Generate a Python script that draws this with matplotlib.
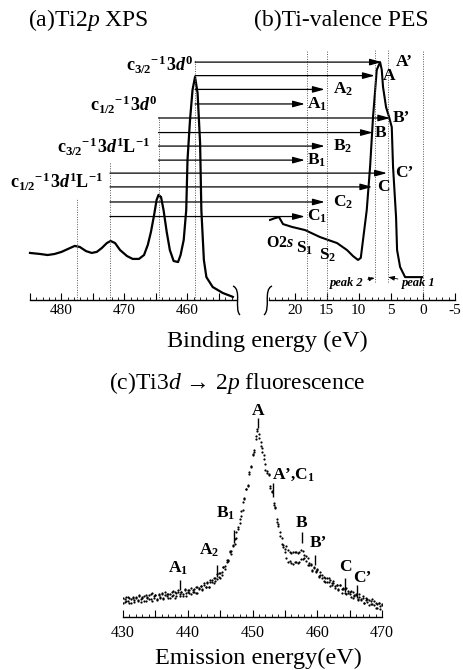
import matplotlib
matplotlib.use("Agg")
import matplotlib.pyplot as plt
from matplotlib.patches import ConnectionPatch, PathPatch
from matplotlib.path import Path
from matplotlib.ticker import MultipleLocator, FuncFormatter

plt.rcParams["font.family"] = ["Liberation Serif", "DejaVu Serif"]
plt.rcParams["mathtext.fontset"] = "custom"
plt.rcParams["mathtext.rm"] = "Liberation Serif"
plt.rcParams["mathtext.it"] = "Liberation Serif:italic"
plt.rcParams["mathtext.bf"] = "Liberation Serif:bold"
plt.rcParams["mathtext.bfit"] = "Liberation Serif:italic:bold"
plt.rcParams["axes.unicode_minus"] = False

# ---- (a) Ti2p XPS (binding energy eV, rel. intensity)
xps_be = [485.0, 483.4, 482.2, 481.1, 480.0, 479.0, 477.9, 477.1, 476.1, 475.2,
          474.4, 473.6, 472.8, 472.2, 471.5, 470.7, 469.6, 468.7, 467.7, 466.9,
          466.3, 465.8, 465.3, 464.9, 464.6, 464.2, 463.8, 463.3, 462.8, 462.2,
          461.5, 461.1, 460.6, 460.2, 460.0, 459.6, 459.2, 458.8, 458.4, 458.0,
          457.8, 457.4, 457.0, 456.0, 454.4, 452.8]
xps_int = [0.181, 0.177, 0.173, 0.177, 0.185, 0.196, 0.208, 0.204, 0.188, 0.181,
           0.185, 0.200, 0.219, 0.227, 0.219, 0.192, 0.169, 0.158, 0.158, 0.173,
           0.212, 0.262, 0.327, 0.385, 0.404, 0.396, 0.346, 0.262, 0.192, 0.150,
           0.146, 0.173, 0.231, 0.346, 0.538, 0.692, 0.808, 0.858, 0.796, 0.604,
           0.346, 0.154, 0.088, 0.050, 0.027, 0.012]

# ---- (b) Ti-valence PES
pes_be = [23.84, 23.06, 22.44, 21.82, 20.41, 18.38, 16.04, 13.39, 11.83, 10.90,
          10.12, 9.69, 9.34, 8.76, 8.24, 7.78, 7.20, 6.68, 6.42, 6.22,
          5.75, 5.28, 4.86, 4.66, 4.19, 4.03, 3.56, 2.78, 0.13]
pes_int = [0.308, 0.315, 0.319, 0.292, 0.281, 0.269, 0.242, 0.219, 0.192, 0.169,
           0.154, 0.162, 0.231, 0.346, 0.512, 0.704, 0.885, 0.915, 0.885, 0.819,
           0.742, 0.704, 0.665, 0.512, 0.319, 0.192, 0.127, 0.088, 0.088]

# XPS final states (dotted lines) and their labels
xps_lines = [477.6, 472.3, 464.6, 458.8]
xps_line_top = [0.392, 0.531, 0.704, 0.923]
c_labels = [r"$\mathbf{c}_{\mathbf{3/2}}{}^{\mathbf{-1}}\,\mathbf{3}\mathbfit{d}^{\mathbf{0}}$",
            r"$\mathbf{c}_{\mathbf{1/2}}{}^{\mathbf{-1}}\,\mathbf{3}\mathbfit{d}^{\mathbf{0}}$",
            r"$\mathbf{c}_{\mathbf{3/2}}{}^{\mathbf{-1}}\,\mathbf{3}\mathbfit{d}^{\mathbf{1}}\mathbf{L}^{\mathbf{-1}}$",
            r"$\mathbf{c}_{\mathbf{1/2}}{}^{\mathbf{-1}}\,\mathbf{3}\mathbfit{d}^{\mathbf{1}}\mathbf{L}^{\mathbf{-1}}$"]
c_label_be = [459.1, 464.8, 466.0, 473.4]
c_label_y = [0.904, 0.750, 0.588, 0.454]

# PES reference energies: S1, S2, peak 2, peak 1, Fermi level
pes_lines = [18.0, 15.0, 7.5, 5.5, 0.0]
pes_line_bottom = [0.0, 0.0, 0.07, 0.07, 0.0]

# transitions XPS -> PES
arrow_row = [0.915, 0.863, 0.810, 0.754, 0.700, 0.644, 0.592, 0.538,
             0.488, 0.435, 0.377, 0.321]
arrow_start = [458.8, 458.8, 458.8, 458.8, 464.6, 464.6, 464.6, 464.6,
               472.3, 472.3, 472.3, 472.3]
arrow_end = [6.4, 7.5, 15.3, 18.4, 5.1, 7.8, 15.3, 18.4, 5.6, 7.9, 15.3, 18.4]
arrow_labels = ["A’", "A", r"$\mathbf{A}_{\mathbf{2}}$", r"$\mathbf{A}_{\mathbf{1}}$",
                "B’", "B", r"$\mathbf{B}_{\mathbf{2}}$", r"$\mathbf{B}_{\mathbf{1}}$",
                "C’", "C", r"$\mathbf{C}_{\mathbf{2}}$", r"$\mathbf{C}_{\mathbf{1}}$"]
arrow_label_be = [4.3, 6.2, 14.0, 18.1, 4.65, 7.5, 14.0, 18.1, 4.35, 7.15, 14.0, 18.1]

# ---- (c) Ti3d -> 2p fluorescence (two sweeps)
fl_energy = [430.00, 430.25, 430.50, 430.75, 431.00, 431.25, 431.50, 431.75,
             432.00, 432.25, 432.50, 432.75, 433.00, 433.25, 433.50, 433.75,
             434.00, 434.25, 434.50, 434.75, 435.00, 435.25, 435.50, 435.75,
             436.00, 436.25, 436.50, 436.75, 437.00, 437.25, 437.50, 437.75,
             438.00, 438.25, 438.50, 438.75, 439.00, 439.25, 439.50, 439.75,
             440.00, 440.25, 440.50, 440.75, 441.00, 441.25, 441.50, 441.75,
             442.00, 442.25, 442.50, 442.75, 443.00, 443.25, 443.50, 443.75,
             444.00, 444.25, 444.50, 444.75, 445.00, 445.25, 445.50, 445.75,
             446.00, 446.25, 446.50, 446.75, 447.00, 447.25, 447.50, 447.75,
             448.00, 448.25, 448.50, 448.75, 449.00, 449.25, 449.50, 449.75,
             450.00, 450.25, 450.50, 450.75, 451.00, 451.25, 451.50, 451.75,
             452.00, 452.25, 452.50, 452.75, 453.00, 453.25, 453.50, 453.75,
             454.00, 454.25, 454.50, 454.75, 455.00, 455.25, 455.50, 455.75,
             456.00, 456.25, 456.50, 456.75, 457.00, 457.25, 457.50, 457.75,
             458.00, 458.25, 458.50, 458.75, 459.00, 459.25, 459.50, 459.75,
             460.00, 460.25, 460.50, 460.75, 461.00, 461.25, 461.50, 461.75,
             462.00, 462.25, 462.50, 462.75, 463.00, 463.25, 463.50, 463.75,
             464.00, 464.25, 464.50, 464.75, 465.00, 465.25, 465.50, 465.75,
             466.00, 466.25, 466.50, 466.75, 467.00, 467.25, 467.50, 467.75,
             468.00, 468.25, 468.50, 468.75, 469.00, 469.25, 469.50, 469.75,
             470.00]
fl_sweep1 = [0.085, 0.068, 0.092, 0.073, 0.084, 0.064, 0.091, 0.078,
             0.090, 0.073, 0.098, 0.079, 0.090, 0.071, 0.098, 0.085,
             0.098, 0.081, 0.106, 0.087, 0.097, 0.078, 0.105, 0.091,
             0.104, 0.087, 0.112, 0.093, 0.104, 0.085, 0.112, 0.099,
             0.112, 0.096, 0.121, 0.103, 0.114, 0.095, 0.122, 0.109,
             0.122, 0.106, 0.132, 0.114, 0.126, 0.108, 0.137, 0.125,
             0.140, 0.126, 0.153, 0.137, 0.151, 0.136, 0.167, 0.158,
             0.175, 0.163, 0.193, 0.179, 0.196, 0.188, 0.227, 0.228,
             0.255, 0.254, 0.296, 0.296, 0.326, 0.331, 0.382, 0.398,
             0.440, 0.457, 0.516, 0.531, 0.576, 0.591, 0.652, 0.678,
             0.730, 0.752, 0.816, 0.836, 0.826, 0.771, 0.762, 0.713,
             0.690, 0.647, 0.646, 0.591, 0.566, 0.506, 0.492, 0.443,
             0.420, 0.367, 0.356, 0.316, 0.306, 0.266, 0.302, 0.252,
             0.290, 0.240, 0.295, 0.248, 0.290, 0.247, 0.302, 0.262,
             0.280, 0.252, 0.266, 0.236, 0.236, 0.208, 0.227, 0.205,
             0.210, 0.186, 0.204, 0.177, 0.181, 0.156, 0.177, 0.158,
             0.165, 0.143, 0.162, 0.138, 0.144, 0.120, 0.142, 0.124,
             0.132, 0.110, 0.131, 0.107, 0.114, 0.090, 0.112, 0.095,
             0.103, 0.082, 0.103, 0.079, 0.086, 0.063, 0.086, 0.069,
             0.078, 0.057, 0.079, 0.056, 0.064, 0.041, 0.065, 0.048,
             0.058]
fl_sweep2 = [0.063, 0.081, 0.070, 0.091, 0.062, 0.080, 0.087, 0.068,
             0.085, 0.075, 0.096, 0.067, 0.086, 0.093, 0.074, 0.092,
             0.082, 0.103, 0.074, 0.093, 0.099, 0.080, 0.098, 0.087,
             0.108, 0.079, 0.098, 0.105, 0.086, 0.104, 0.094, 0.115,
             0.086, 0.106, 0.113, 0.095, 0.113, 0.103, 0.124, 0.095,
             0.114, 0.122, 0.104, 0.123, 0.114, 0.136, 0.109, 0.129,
             0.138, 0.122, 0.142, 0.135, 0.159, 0.134, 0.157, 0.168,
             0.153, 0.176, 0.171, 0.197, 0.174, 0.204, 0.223, 0.218,
             0.250, 0.256, 0.294, 0.284, 0.322, 0.353, 0.358, 0.405,
             0.424, 0.479, 0.484, 0.537, 0.578, 0.593, 0.645, 0.674,
             0.734, 0.744, 0.802, 0.848, 0.808, 0.790, 0.744, 0.729,
             0.664, 0.657, 0.638, 0.583, 0.565, 0.514, 0.494, 0.429,
             0.412, 0.383, 0.328, 0.325, 0.294, 0.318, 0.250, 0.292,
             0.243, 0.291, 0.247, 0.292, 0.244, 0.293, 0.260, 0.297,
             0.264, 0.274, 0.234, 0.242, 0.238, 0.210, 0.220, 0.201,
             0.214, 0.178, 0.190, 0.189, 0.163, 0.175, 0.159, 0.174,
             0.139, 0.153, 0.154, 0.130, 0.143, 0.128, 0.144, 0.110,
             0.124, 0.126, 0.103, 0.116, 0.102, 0.118, 0.084, 0.099,
             0.101, 0.078, 0.092, 0.077, 0.094, 0.061, 0.076, 0.079,
             0.056, 0.070, 0.057, 0.074, 0.042, 0.057, 0.061, 0.038,
             0.053]

fl_labels = ["A", r"$\mathbf{A’{,}C}_{\mathbf{1}}$", r"$\mathbf{B}_{\mathbf{1}}$",
             r"$\mathbf{A}_{\mathbf{2}}$", r"$\mathbf{A}_{\mathbf{1}}$",
             "B", "B’", "C", "C’"]
fl_mark_e = [450.8, 453.1, 447.1, 444.5, 438.8, 457.6, 459.65, 464.3, 466.1]
fl_mark_lo = [0.851, 0.540, 0.333, 0.180, 0.122, 0.333, 0.234, 0.113, 0.086]
fl_mark_hi = [0.896, 0.604, 0.392, 0.234, 0.167, 0.383, 0.279, 0.176, 0.144]
fl_label_e = [450.8, 452.96, 445.9, 443.3, 438.5, 457.6, 458.9, 464.4, 465.5]
fl_label_y = [0.928, 0.640, 0.468, 0.302, 0.221, 0.423, 0.333, 0.225, 0.176]
fl_label_ha = ["center", "left", "center", "center", "center", "center", "left",
               "center", "left"]

W, H = 464, 670


def fx(x):
    return x / W


def fy(y):
    return 1 - y / H


fig = plt.figure(figsize=(W / 100, H / 100), dpi=100)

ax_l = fig.add_axes([fx(30), fy(300), fx(206), 260 / H])
ax_r = fig.add_axes([fx(269), fy(300), fx(186), 260 / H])
ax_c = fig.add_axes([fx(123), fy(617), fx(259), 222 / H])


def style_axis(ax, label_every):
    for side in ("left", "right", "top"):
        ax.spines[side].set_visible(False)
    ax.spines["bottom"].set_linewidth(1.0)
    ax.set_yticks([])
    ax.patch.set_alpha(0)
    ax.xaxis.set_major_locator(MultipleLocator(5))
    ax.xaxis.set_minor_locator(MultipleLocator(1))
    ax.xaxis.set_major_formatter(FuncFormatter(
        lambda v, p: f"{v:.0f}" if round(v) % label_every == 0 else ""))
    ax.tick_params(axis="x", which="major", direction="in", length=5,
                   width=0.8, labelsize=11, pad=3)
    ax.tick_params(axis="x", which="minor", direction="in", length=2.5,
                   width=0.6)


style_axis(ax_l, 10)
style_axis(ax_r, 5)
style_axis(ax_c, 10)
ax_c.tick_params(axis="x", which="major", pad=6, labelsize=11.5)

ax_l.set_xlim(485, 452.3)
ax_r.set_xlim(24, -5)
ax_c.set_xlim(430, 470)
for ax in (ax_l, ax_r, ax_c):
    ax.set_ylim(0, 1)

dot = dict(color="0.35", lw=0.7, ls=(0, (1, 1.5)))
bold = dict(fontsize=12.5, fontweight="bold", va="center")

# (a) XPS
ax_l.plot(xps_be, xps_int, color="k", lw=1.6, clip_on=False)
for be, top in zip(xps_lines, xps_line_top):
    ax_l.vlines(be, 0, top, **dot)
for txt, be, yv in zip(c_labels, c_label_be, c_label_y):
    ax_l.text(be, yv, txt, ha="right", fontsize=13, va="center")

# (b) PES
ax_r.plot(pes_be, pes_int, color="k", lw=1.5)
for be, lo in zip(pes_lines, pes_line_bottom):
    ax_r.vlines(be, lo, 0.96, **dot)

ax_r.text(24.4, 0.218, r"$\mathbf{O2}\mathbfit{s}$", ha="left", fontsize=11.5,
          va="center")
ax_r.text(18.4, 0.200, r"$\mathbf{S}_{\mathbf{1}}$", ha="center", fontsize=12.5,
          va="center")
ax_r.text(14.8, 0.172, r"$\mathbf{S}_{\mathbf{2}}$", ha="center", fontsize=12.5,
          va="center")

ax_r.annotate("peak 2", xy=(7.5, 0.085), xytext=(14.5, 0.065),
              fontsize=9, style="italic", fontweight="bold", va="center",
              arrowprops=dict(arrowstyle="-|>,head_length=0.4,head_width=0.15",
                              lw=0.6, ls=(0, (2, 1.5)), color="k",
                              shrinkA=1, shrinkB=0))
ax_r.annotate("peak 1", xy=(5.4, 0.088), xytext=(3.25, 0.065),
              fontsize=9, style="italic", fontweight="bold", va="center",
              arrowprops=dict(arrowstyle="-|>,head_length=0.4,head_width=0.15",
                              lw=0.6, color="k", shrinkA=1, shrinkB=0))

for y0, x0, x1 in zip(arrow_row, arrow_start, arrow_end):
    con = ConnectionPatch(xyA=(x0, y0), coordsA=ax_l.transData,
                          xyB=(x1, y0), coordsB=ax_r.transData,
                          arrowstyle="-|>,head_length=1.1,head_width=0.3",
                          mutation_scale=6.5, lw=0.9, color="k",
                          shrinkA=0, shrinkB=0)
    fig.add_artist(con)
for y0, txt, be in zip(arrow_row, arrow_labels, arrow_label_be):
    ax_r.text(be, y0, txt, ha="left", **bold)

# axis break marks
for pts in ([(233, 286), (242, 290), (234, 309), (240, 315)],
            [(272, 286), (263, 290), (271, 309), (264, 315)]):
    verts = [(fx(x), fy(y)) for x, y in pts]
    fig.add_artist(PathPatch(Path(verts, [Path.MOVETO, Path.CURVE4,
                                          Path.CURVE4, Path.CURVE4]),
                             transform=fig.transFigure, fill=False,
                             lw=1.0, ec="k"))

# (c) fluorescence
ax_c.plot(fl_energy, fl_sweep1, ls="none", marker="o", ms=1.6, mew=0,
          color="k")
ax_c.plot(fl_energy, fl_sweep2, ls="none", marker="o", ms=1.6, mew=0,
          color="k")
for e, lo, hi in zip(fl_mark_e, fl_mark_lo, fl_mark_hi):
    ax_c.vlines(e, lo, hi, color="k", lw=1.0)
for txt, e, yv, ha in zip(fl_labels, fl_label_e, fl_label_y, fl_label_ha):
    ax_c.text(e, yv, txt, ha=ha, **bold)

# titles and axis names
fig.text(fx(28), fy(20), r"(a)Ti2$p$ XPS", fontsize=17, va="center")
fig.text(fx(341), fy(20), "(b)Ti-valence PES", fontsize=17, va="center",
         ha="center")
fig.text(fx(267), fy(341), "Binding energy (eV)", fontsize=17.5, va="center",
         ha="center")
fig.text(fx(237), fy(383), r"(c)Ti3$d$ → 2$p$ fluorescence", fontsize=17,
         va="center", ha="center")
fig.text(fx(258), fy(658), "Emission energy(eV)", fontsize=17.5, va="center",
         ha="center")

fig.savefig("out.png", dpi=100, facecolor="white")
